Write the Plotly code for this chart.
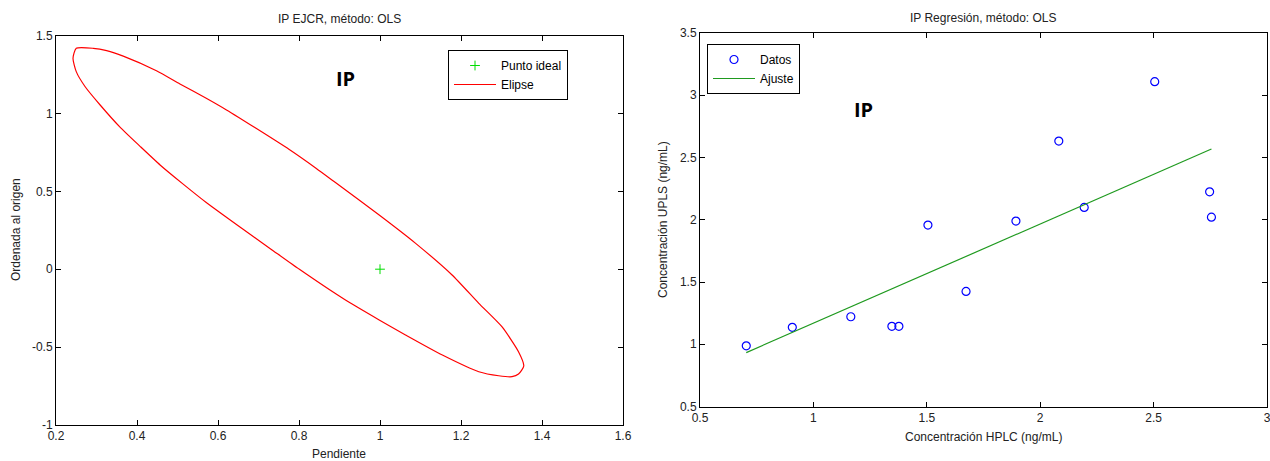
import plotly.graph_objects as go

W, H = 1270, 461

# ---------------- data ----------------
ideal_x = [1.0]
ideal_y = [0.0]

ellipse_x = [0.250, 0.292, 0.325, 0.366, 0.448, 0.506, 0.571, 0.621, 0.694, 0.776,
             0.842, 0.890, 0.998, 1.088, 1.178, 1.244, 1.301, 1.342, 1.355, 1.342,
             1.326, 1.293, 1.244, 1.154, 1.063, 0.998, 0.908, 0.801, 0.730, 0.662,
             0.571, 0.514, 0.457, 0.407, 0.358, 0.309, 0.272, 0.250, 0.242, 0.250]
ellipse_y = [1.418, 1.418, 1.403, 1.368, 1.274, 1.189, 1.097, 1.022, 0.904, 0.768,
             0.648, 0.556, 0.348, 0.166, -0.037, -0.219, -0.369, -0.530, -0.621, -0.673,
             -0.690, -0.684, -0.658, -0.551, -0.422, -0.326, -0.187, -0.001, 0.130, 0.256,
             0.428, 0.546, 0.669, 0.790, 0.912, 1.054, 1.171, 1.268, 1.354, 1.418]

hplc = [0.704, 0.907, 1.165, 1.346, 1.377, 1.505, 1.673, 1.893, 2.082, 2.194, 2.505, 2.747, 2.755]
upls = [0.987, 1.136, 1.221, 1.144, 1.144, 1.957, 1.424, 1.989, 2.632, 2.099, 3.109, 2.224, 2.021]

fit_x = [0.704, 2.755]
fit_y = [0.933, 2.568]

left_xticks = [0.2, 0.4, 0.6, 0.8, 1.0, 1.2, 1.4, 1.6]
left_xtext = ["0.2", "0.4", "0.6", "0.8", "1", "1.2", "1.4", "1.6"]
left_yticks = [-1, -0.5, 0, 0.5, 1, 1.5]
left_ytext = ["-1", "-0.5", "0", "0.5", "1", "1.5"]
right_xticks = [0.5, 1, 1.5, 2, 2.5, 3]
right_xtext = ["0.5", "1", "1.5", "2", "2.5", "3"]
right_yticks = [0.5, 1, 1.5, 2, 2.5, 3, 3.5]
right_ytext = ["0.5", "1", "1.5", "2", "2.5", "3", "3.5"]

# ---------------- helpers ----------------
def px(x):
    return x / W

def py(y):
    return 1 - y / H

FONT = "Liberation Sans"

fig = go.Figure()

fig.add_trace(go.Scatter(x=ideal_x, y=ideal_y, mode="markers", name="Punto ideal",
                         marker=dict(symbol="cross-thin", size=7, color="#00dd00",
                                     line=dict(color="#00dd00", width=1)),
                         xaxis="x", yaxis="y", legend="legend"))
fig.add_trace(go.Scatter(x=ellipse_x, y=ellipse_y, mode="lines", name="Elipse",
                         line=dict(color="#ff0000", width=1.2, shape="spline", smoothing=0.6),
                         xaxis="x", yaxis="y", legend="legend"))

fig.add_trace(go.Scatter(x=hplc, y=upls, mode="markers", name="Datos",
                         marker=dict(symbol="circle-open", size=8, color="#0000ff",
                                     line=dict(color="#0000ff", width=1.2)),
                         xaxis="x2", yaxis="y2", legend="legend2"))
fig.add_trace(go.Scatter(x=fit_x, y=fit_y, mode="lines", name="Ajuste",
                         line=dict(color="#1f9a1f", width=1.2),
                         xaxis="x2", yaxis="y2", legend="legend2"))

axis_common = dict(showgrid=False, zeroline=False, showline=True, linecolor="black",
                   linewidth=1, mirror="ticks", ticks="inside", ticklen=5,
                   automargin=False, ticklabeloverflow="allow",
                   tickcolor="black", tickfont=dict(family=FONT, size=12, color="#222"))

fig.update_layout(
    width=W, height=H,
    margin=dict(l=0, r=0, t=0, b=0, autoexpand=False),
    paper_bgcolor="white", plot_bgcolor="white",
    showlegend=True,
    xaxis=dict(domain=[px(56), px(623)], range=[0.2, 1.6], tickvals=left_xticks,
               ticktext=left_xtext, anchor="y", **axis_common),
    yaxis=dict(domain=[py(425), py(35.5)], range=[-1, 1.5], tickvals=left_yticks,
               ticktext=left_ytext, anchor="x", **axis_common),
    xaxis2=dict(domain=[px(700), px(1267)], range=[0.5, 3], tickvals=right_xticks,
                ticktext=right_xtext, anchor="y2", **axis_common),
    yaxis2=dict(domain=[py(406.5), py(33)], range=[0.5, 3.5], tickvals=right_yticks,
                ticktext=right_ytext, anchor="x2", **axis_common),
    legend=dict(x=px(448), y=py(50), xanchor="left", yanchor="top",
                bgcolor="white", bordercolor="black", borderwidth=1,
                font=dict(family=FONT, size=12, color="black"),
                tracegroupgap=0, itemwidth=42),
    legend2=dict(x=px(707), y=py(44), xanchor="left", yanchor="top",
                 bgcolor="white", bordercolor="black", borderwidth=1,
                 font=dict(family=FONT, size=12, color="black"),
                 tracegroupgap=0, itemwidth=42),
)

def ann(text, x, y, size=12, bold=False, angle=0, family=FONT, color="#222"):
    t = f"<b>{text}</b>" if bold else text
    fig.add_annotation(text=t, x=px(x), y=py(y), xref="paper", yref="paper",
                       showarrow=False, xanchor="center", yanchor="middle",
                       textangle=angle, font=dict(family=family, size=size, color=color))

ann("IP EJCR, método: OLS", 339, 19)
ann("IP Regresión, método: OLS", 983, 18)
ann("Pendiente", 339, 454)
ann("Concentración HPLC (ng/mL)", 983, 437)
ann("Ordenada al origen", 16, 230, angle=-90)
ann("Concentración UPLS (ng/mL)", 663, 220, angle=-90)
ann("IP", 345, 78, size=20, bold=True, family="Open Sans", color="black")
ann("IP", 863, 110, size=20, bold=True, family="Open Sans", color="black")

fig.write_html("out.html")
